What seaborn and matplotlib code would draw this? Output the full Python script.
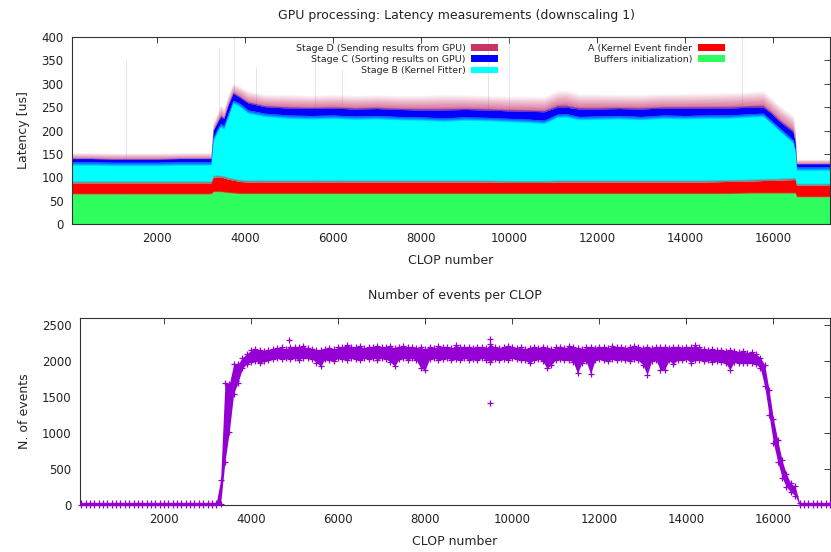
import numpy as np
import matplotlib
matplotlib.use("Agg")
import matplotlib.pyplot as plt
from matplotlib.patches import Patch
import seaborn as sns

# ---- latency (stacked stage tops, read at knots) ----
lat_clop = [70, 500, 1000, 1500, 2000, 2500, 3000, 3230, 3280, 3380, 3450, 3520, 3620, 3730,
            3870, 4070, 4450, 5000, 5500, 6000, 6500, 7000, 7500, 8000, 8500, 9000, 9500,
            10000, 10500, 10800, 11100, 11300, 11600, 12000, 12500, 13000, 13500, 14000,
            14500, 15000, 15500, 15780, 15960, 16160, 16460, 16510, 16540, 17000, 17300]
buffers_top = [64, 64, 64, 64, 64, 64, 64, 64, 69, 69, 69, 68, 67, 66,
               65, 65, 65, 65, 65, 65, 65, 65, 65, 65, 65, 65, 65,
               65, 65, 65, 65, 65, 65, 65, 65, 65, 65, 65,
               65, 65, 66, 66, 66, 66, 66, 66, 58, 58, 58]
stage_a_top = [88, 88, 88, 88, 88, 88, 88, 88, 100, 101, 100, 99, 96, 94,
               91, 90, 90, 90, 90, 90, 90, 90, 90, 90, 90, 90, 90,
               89, 89, 89, 90, 90, 90, 90, 90, 90, 90, 90,
               90, 91, 92, 93, 93, 94, 95, 95, 83, 83, 83]
stage_b_top = [133, 133, 132, 132, 132, 133, 133, 133, 185, 205, 215, 210, 237, 265,
               259, 244, 237, 233, 232, 233, 231, 232, 230, 229, 227, 229, 228,
               226, 224, 222, 235, 236, 230, 231, 232, 230, 233, 232,
               233, 233, 236, 237, 222, 205, 180, 160, 122, 122, 122]
stage_c_top = [140, 140, 139, 139, 139, 140, 140, 140, 200, 219, 230, 226, 255, 280,
               272, 259, 251, 248, 247, 248, 246, 247, 245, 244, 244, 245, 244,
               242, 241, 240, 250, 250, 246, 246, 247, 246, 248, 248,
               248, 248, 250, 250, 237, 219, 197, 175, 129, 129, 129]
stage_d_top = [147, 147, 146, 146, 146, 147, 147, 147, 212, 233, 250, 242, 272, 296,
               290, 280, 272, 272, 270, 272, 270, 271, 270, 270, 272, 271, 270,
               268, 268, 268, 280, 282, 273, 273, 272, 272, 274, 274,
               275, 276, 278, 280, 265, 248, 227, 200, 133, 133, 133]

spike_clop = [1300, 3420, 3760, 4250, 5600, 6200, 9520, 10000, 15300]
spike_top = [350, 378, 400, 335, 380, 330, 400, 400, 400]

labels = ["Stage D (Sending results from GPU)", "Stage C (Sorting results on GPU)",
          "Stage B (Kernel Fitter)", "A (Kernel Event finder", "Buffers initialization)"]
colors = ["#c8336a", "#0000ff", "#00ffff", "#ff0000", "#2eff5f"]

# ---- events per CLOP (lower / upper edge of the band, every 100 CLOPs) ----
ev_clop = np.arange(100, 17301, 100)
ev_low = ([0] * 32 +
          [20, 600, 1020, 1550, 1700, 1900, 1960] +
          [1990, 2000, 1970, 2000, 2020, 2030, 2040, 2030, 2040, 2030] +
          [2040, 2020, 2050, 2040, 2030, 1980, 1930, 2030, 2020, 2000] +
          [2040, 2030, 2020, 2040, 2030, 2010, 2040, 2030, 2050, 2020] +
          [2040, 2030, 1990, 1930, 2030, 2040, 2020, 2040, 2010, 1900] +
          [1880, 2030, 2040, 2020, 2030, 2040, 2020, 2030, 2010, 2040] +
          [2020, 2030, 2010, 2040, 2020, 1990, 2030, 2010, 2030, 2020] +
          [2040, 2030, 2020, 2010, 1970, 2020, 2030, 2000, 1900, 1950] +
          [2020, 2030, 2010, 2020, 1990, 1830, 1980, 2000, 1820, 2010] +
          [2030, 2020, 2000, 2030, 2010, 2030, 2020, 2000, 2030, 2010] +
          [1950, 1810, 2000, 2020, 1880, 1880, 2010, 1960, 2020, 2010] +
          [2030, 1980, 2010, 2020, 2000, 2010, 1990, 2000, 1990, 1980] +
          [1880, 1990, 1980, 1970, 1980, 1970, 1960, 1900, 1650, 1250] +
          [860, 600, 380, 250, 180, 130] +
          [0] * 8)
ev_high = ([30] * 32 +
           [350, 1700, 1680, 1960, 1960, 2050, 2100] +
           [2150, 2170, 2150, 2140, 2160, 2170, 2180, 2190, 2170, 2200] +
           [2190, 2200, 2210, 2180, 2170, 2160, 2150, 2170, 2180, 2170] +
           [2190, 2200, 2230, 2200, 2190, 2210, 2180, 2200, 2190, 2210] +
           [2190, 2200, 2210, 2180, 2200, 2210, 2190, 2200, 2180, 2190] +
           [2170, 2200, 2180, 2210, 2190, 2200, 2180, 2220, 2200, 2190] +
           [2200, 2180, 2190, 2200, 2180, 2240, 2190, 2180, 2200, 2210] +
           [2190, 2180, 2190, 2170, 2180, 2190, 2180, 2200, 2180, 2170] +
           [2190, 2200, 2180, 2210, 2190, 2180, 2170, 2190, 2200, 2180] +
           [2190, 2200, 2180, 2210, 2190, 2200, 2180, 2190, 2210, 2190] +
           [2180, 2200, 2180, 2190, 2200, 2190, 2180, 2200, 2190, 2180] +
           [2200, 2190, 2220, 2190, 2170, 2160, 2170, 2150, 2160, 2140] +
           [2150, 2140, 2130, 2140, 2120, 2130, 2100, 2050, 1950, 1600] +
           [1200, 900, 620, 430, 300, 260] +
           [30] * 8)
odd_clop = [3650, 4870, 9480, 9480]
odd_events = [1730, 2300, 2310, 1420]

violet = "#9400d3"

sns.set_style("white")
plt.rcParams['font.family'] = ['DejaVu Sans']
plt.rcParams['font.size'] = 8.5


def fade(ax, x, lo, hi, color, a0, a1, n=14, z=2, power=1.0):
    # colour band whose opacity goes from a0 (at lo) to a1 (at hi)
    lo = np.asarray(lo, float)
    hi = np.asarray(hi, float)
    for k in range(n):
        f0, f1 = k / n, (k + 1) / n
        t = ((k + 0.5) / n) ** power
        a = a0 + (a1 - a0) * t
        ax.fill_between(x, lo + (hi - lo) * f0, lo + (hi - lo) * f1,
                        color=color, alpha=max(a, 0), lw=0, zorder=z)


def style(ax):
    for s in ax.spines.values():
        s.set_color("#333333")
        s.set_linewidth(0.8)
    ax.tick_params(direction="in", length=4, width=0.6, top=True, right=True,
                   labelsize=8.5, pad=6, colors="#222222")


fig = plt.figure(figsize=(8.31, 5.52), dpi=100)
ax1 = fig.add_axes([72 / 831, 1 - 224 / 552, (830 - 72) / 831, (224 - 37) / 552])
ax2 = fig.add_axes([80 / 831, 1 - 505 / 552, (830 - 80) / 831, (505 - 318) / 552])

# ---- top: stacked latency ----
x = np.asarray(lat_clop, float)
g = np.asarray(buffers_top, float)
r = np.asarray(stage_a_top, float)
c = np.asarray(stage_b_top, float)
b = np.asarray(stage_c_top, float)
d = np.asarray(stage_d_top, float)

ax1.vlines(spike_clop, 0, spike_top, color="#9c8ce0", alpha=0.25, lw=0.7, zorder=1)
ax1.fill_between(x, 0, g, color=colors[4], lw=0, zorder=2)
ax1.fill_between(x, g, r, color=colors[3], lw=0, zorder=2)
ax1.fill_between(x, r, c, color=colors[2], lw=0, zorder=2)
fade(ax1, x, c - 8, c, colors[1], 0.0, 0.9)
ax1.fill_between(x, c, b, color=colors[1], lw=0, zorder=2)
fade(ax1, x, b, d + 6, colors[0], 1.0, 0.0, n=20, power=0.8)
fade(ax1, x, b, b + (d - b) * 0.15, colors[1], 0.8, 0.0, n=8)
fade(ax1, x, r, r + 5, colors[3], 0.8, 0.0, n=8)
fade(ax1, x, g, g + 3, colors[4], 0.7, 0.0, n=6)

ax1.set_xlim(70, 17300)
ax1.set_ylim(0, 400)
ax1.set_xticks(range(2000, 16001, 2000))
ax1.set_yticks(range(0, 401, 50))
ax1.set_xlabel("CLOP number", fontsize=9, labelpad=6)
ax1.set_ylabel("Latency [us]", fontsize=9, labelpad=8)
style(ax1)

handles = [Patch(facecolor=col, edgecolor="none") for col in colors]
ax1.legend(handles, labels, ncol=2, markerfirst=False, frameon=False, fontsize=6.8,
           loc="upper right", bbox_to_anchor=(0.862, 0.965), borderaxespad=0,
           borderpad=0, columnspacing=9.5, handlelength=2.9, handleheight=0.7,
           handletextpad=0.6, labelspacing=0.25)

# ---- bottom: events per CLOP ----
ax2.fill_between(ev_clop, ev_low, ev_high, color=violet, lw=0, zorder=2)
sns.scatterplot(x=ev_clop, y=ev_low, marker="+", color=violet, s=22, linewidth=0.9,
                ax=ax2, zorder=3, clip_on=False)
sns.scatterplot(x=ev_clop, y=ev_high, marker="+", color=violet, s=22, linewidth=0.9,
                ax=ax2, zorder=3)
sns.scatterplot(x=odd_clop, y=odd_events, marker="+", color=violet, s=22, linewidth=0.9,
                ax=ax2, zorder=3)
ax2.set_xlim(70, 17300)
ax2.set_ylim(0, 2600)
ax2.set_xticks(range(2000, 16001, 2000))
ax2.set_yticks(range(0, 2501, 500))
ax2.set_xlabel("CLOP number", fontsize=9, labelpad=6)
ax2.set_ylabel("N. of events", fontsize=9, labelpad=8)
style(ax2)

fig.text(457 / 831, 1 - 15 / 552, "GPU processing: Latency measurements (downscaling 1)",
         ha="center", va="center", fontsize=9, color="#222222")
fig.text(455 / 831, 1 - 295 / 552, "Number of events per CLOP",
         ha="center", va="center", fontsize=9, color="#222222")

fig.savefig("out.png", dpi=100)
